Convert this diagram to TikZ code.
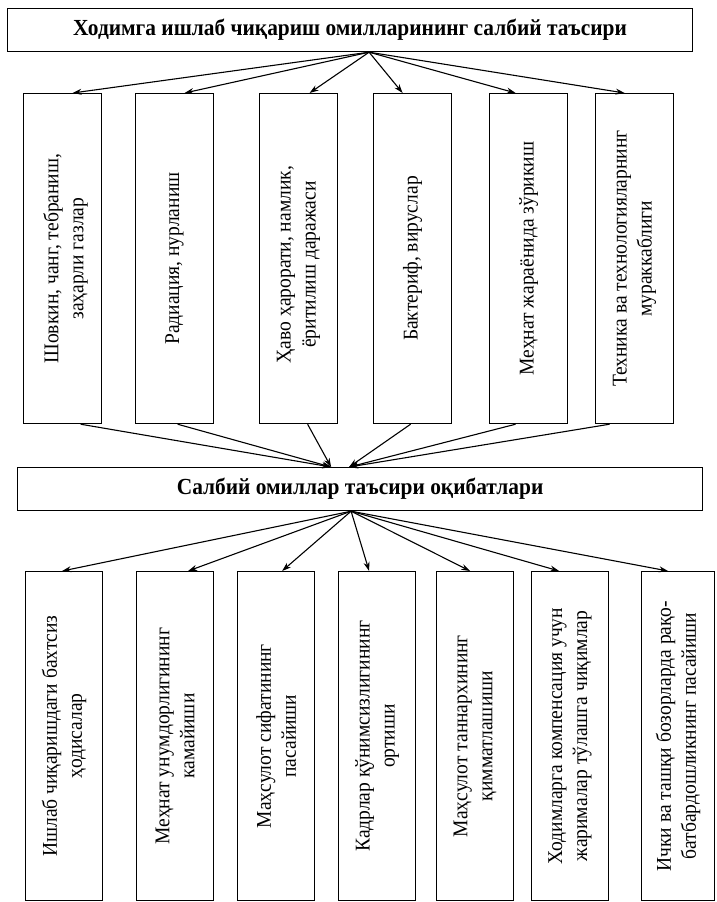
\documentclass[tikz,border=0pt]{standalone}
\usepackage{fontspec}
\setmainfont{Liberation Serif}
\newfontfamily\condserif[FakeStretch=0.93]{Liberation Serif}
\usetikzlibrary{arrows.meta}
\begin{document}
\begin{tikzpicture}[x=1pt,y=-1pt,
  frame/.style={draw, line width=1.2pt, inner sep=0pt, anchor=north west},
  headbox/.style={frame, minimum width=685pt, minimum height=43pt},
  tallbox/.style={frame, minimum width=78pt, minimum height=330pt},
  lowbox/.style={frame, minimum width=77pt, minimum height=329pt},
  vtext/.style={rotate=90, align=center, inner sep=0pt, font=\condserif\fontsize{21}{25}\selectfont},
  htext/.style={inner sep=0pt, font=\condserif\bfseries\fontsize{23}{26}\selectfont},
  arr/.style={-{Stealth[length=9pt,width=6pt]}, line width=1.1pt}
]
\fill[white] (0,0) rectangle (716,902);
\useasboundingbox (0,0) rectangle (716,902);

% top title
\node[headbox] (top) at (7,8) {};
\node[htext] (toptxt) at (top.center) {Ходимга ишлаб чиқариш омилларининг салбий таъсири};

% upper factor boxes
\node[tallbox] (f1) at (23,93) {};
\node[tallbox] (f2) at (135,93) {};
\node[tallbox] (f3) at (259,93) {};
\node[tallbox] (f4) at (373,93) {};
\node[tallbox] (f5) at (489,93) {};
\node[tallbox] (f6) at (595,93) {};

\node[vtext] (t1) at ([xshift=3pt]f1.center) {Шовкин, чанг, тебраниш,\\заҳарли газлар};
\node[vtext] (t2) at (f2.center) {Радиация, нурланиш};
\node[vtext] (t3) at ([yshift=-6pt]f3.center) {Ҳаво ҳарорати, намлик,\\ёритилиш даражаси};
\node[vtext] (t4) at (f4.center) {Бактериф, вируслар};
\node[vtext] (t5) at (f5.center) {Меҳнат жараёнида зўрикиш};
\node[vtext] (t6) at (f6.center) {Техника ва технологияларнинг\\мураккаблиги};

% middle box
\node[headbox] (mid) at (17,467) {};
\node[htext] (midtxt) at (mid.center) {Салбий омиллар таъсири оқибатлари};

% lower consequence boxes
\node[lowbox] (g1) at (25,571) {};
\node[lowbox] (g2) at (136,571) {};
\node[lowbox] (g3) at (237,571) {};
\node[lowbox] (g4) at (338,571) {};
\node[lowbox] (g5) at (436,571) {};
\node[lowbox] (g6) at (531,571) {};
\node[lowbox, minimum width=73pt] (g7) at (641,571) {};

\node[vtext] (u1) at (g1.center) {Ишлаб чиқаришдаги бахтсиз\\ҳодисалар};
\node[vtext] (u2) at (g2.center) {Меҳнат унумдорлигининг\\камайиши};
\node[vtext] (u3) at (g3.center) {Маҳсулот сифатининг\\пасайиши};
\node[vtext] (u4) at (g4.center) {Кадрлар қўнимсизлигининг\\ортиши};
\node[vtext] (u5) at (g5.center) {Маҳсулот таннархининг\\қимматлашиши};
\node[vtext] (u6) at (g6.center) {Ходимларга компенсация учун\\жарималар тўлашга чиқимлар};
\node[vtext] (u7) at (g7.center) {Ички ва ташқи бозорларда рақо-\\батбардошликнинг пасайиши};

% connectors: title -> factors
\coordinate (s1) at ([xshift=19pt]top.south);
\draw[arr] (s1) -- ([xshift=10pt]f1.north);
\draw[arr] (s1) -- ([xshift=10pt]f2.north);
\draw[arr] (s1) -- ([xshift=11pt]f3.north);
\draw[arr] (s1) -- ([xshift=-10pt]f4.north);
\draw[arr] (s1) -- ([xshift=-13pt]f5.north);
\draw[arr] (s1) -- ([xshift=-10pt]f6.north);

% factors -> middle
\coordinate (m1) at ([xshift=-29pt]mid.north);
\coordinate (m2) at ([xshift=-11pt]mid.north);
\draw[arr] ([xshift=18pt]f1.south) -- (m1);
\draw[arr] ([xshift=3pt]f2.south) -- (m1);
\draw[arr] ([xshift=9pt]f3.south) -- (m1);
\draw[arr] ([xshift=-2pt]f4.south) -- (m2);
\draw[arr] ([xshift=-13pt]f5.south) -- (m2);
\draw[arr] ([xshift=-25pt]f6.south) -- (m2);

% middle -> consequences
\coordinate (s2) at ([xshift=-9pt]mid.south);
\draw[arr] (s2) -- ([xshift=-2pt]g1.north);
\draw[arr] (s2) -- ([xshift=13pt]g2.north);
\draw[arr] (s2) -- ([xshift=6pt]g3.north);
\draw[arr] (s2) -- ([xshift=-8pt]g4.north);
\draw[arr] (s2) -- ([xshift=-5pt]g5.north);
\draw[arr] (s2) -- ([xshift=-11pt]g6.north);
\draw[arr] (s2) -- ([xshift=-10pt]g7.north);
\end{tikzpicture}
\end{document}
